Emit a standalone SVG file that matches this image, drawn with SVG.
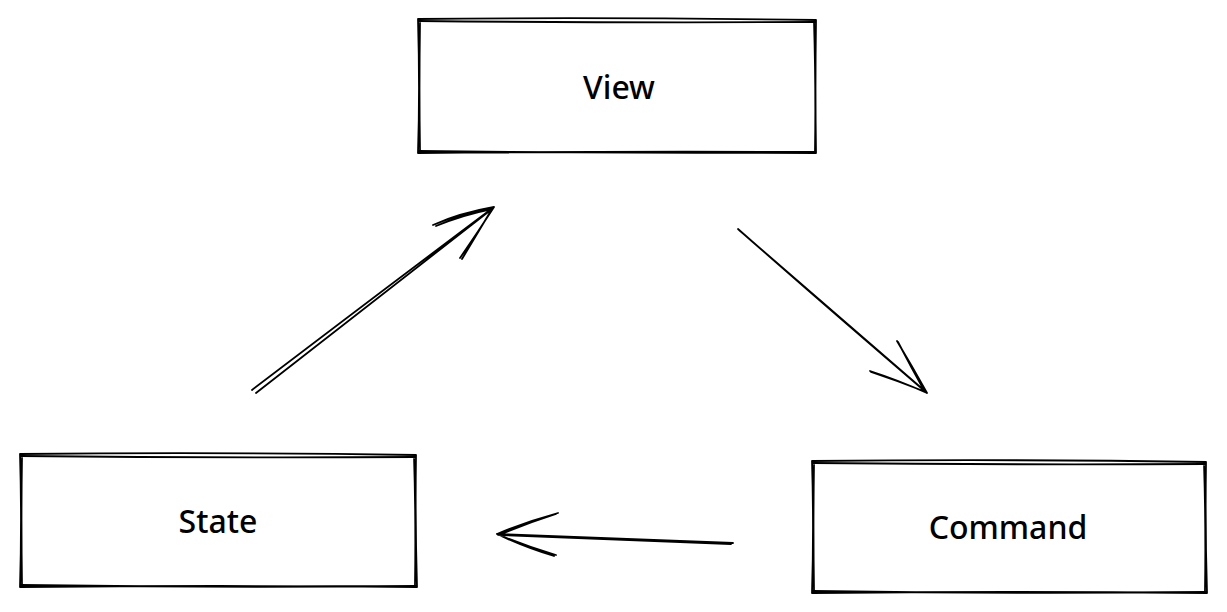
<svg xmlns="http://www.w3.org/2000/svg" width="1227" height="612" viewBox="0 0 1227 612">
<style>
.s{fill:none;stroke:#000;stroke-width:1.8;stroke-linecap:round;stroke-linejoin:round}
.t{font-family:"Noto Sans","Liberation Sans",sans-serif;font-size:32px;font-weight:500;fill:#000;text-anchor:middle;dominant-baseline:central}
</style>
<rect width="1227" height="612" fill="#fff"/>
<g id="view">
<path class="s" d="M418 19 Q600 17 816 20 M419 21 Q620 23 815 22 M816 20 Q815 90 816 153 M814 21 Q816 90 815 151 M418 153 Q620 151 816 152 M419 151 Q600 153 815 153 M418 19 Q420 90 418 153 M420 22 Q419 90 420 151"/>
<text class="t" x="619" y="86">View</text>
</g>
<g id="state">
<path class="s" d="M20 454 Q220 452 416 455 M21 456 Q220 458 415 457 M416 455 Q415 520 417 587 M414 456 Q416 520 415 585 M20 587 Q220 585 417 587 M21 585 Q220 588 416 586 M20 454 Q22 520 20 587 M22 457 Q21 520 22 585"/>
<text class="t" x="218" y="520">State</text>
</g>
<g id="command">
<path class="s" d="M812 461 Q1010 459 1206 462 M813 463 Q1010 465 1205 464 M1206 462 Q1205 528 1207 593 M1204 463 Q1206 528 1205 591 M812 593 Q1010 591 1207 593 M813 591 Q1010 594 1206 592 M812 461 Q814 528 812 593 M814 464 Q813 528 814 591"/>
<text class="t" x="1008" y="526">Command</text>
</g>
<g id="connectors">
<path class="s" d="M252 390 Q370 300 494 207 M256 393 Q372 303 492 209 M494 207 Q460 213 433 225 M492 209 Q462 215 436 226 M494 207 Q478 232 460 258 M492 209 Q477 234 462 259"/>
<path class="s" d="M738 229 Q830 310 927 393 M739 230 Q831 310 926 392 M927 393 Q898 380 870 371 M926 392 Q898 381 871 372 M927 393 Q912 366 897 341 M925 392 Q911 367 898 342"/>
<path class="s" d="M733 543 Q620 539 497 534 M731 544 Q620 540 498 535 M497 534 Q528 521 558 513 M499 535 Q528 523 556 514 M497 534 Q525 546 556 555 M499 535 Q527 548 554 556"/>
</g>
</svg>
